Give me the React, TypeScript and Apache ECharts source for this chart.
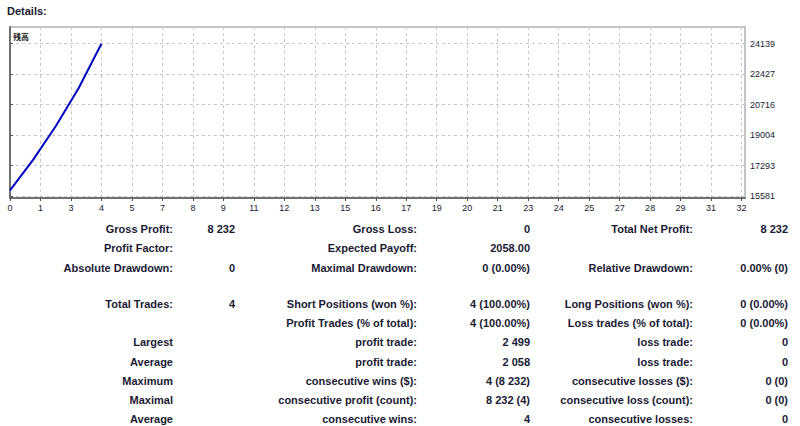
import React, { useEffect, useRef } from "react";
import * as echarts from "echarts";

// ---- chart data ----
const tradeIndex = [0, 1, 2, 3, 4];
const balance = [15907, 17607, 19507, 21640, 24139];
const xTickLabels = [0, 1, 3, 4, 5, 7, 8, 9, 11, 12, 13, 15, 16, 17, 19, 20, 21, 23, 24, 25, 27, 28, 29, 31, 32];
const yTickValues = [15581, 17293, 19004, 20716, 22427, 24139];
const seriesName = "残高";

// ---- report table ----
const rowY = [229, 248.3, 268, 304, 323.3, 342.3, 361.7, 381, 400, 419];
const col1Labels = ["Gross Profit:", "Profit Factor:", "Absolute Drawdown:", "Total Trades:", "", "Largest", "Average", "Maximum", "Maximal", "Average"];
const col1Values = ["8 232", "", "0", "4", "", "", "", "", "", ""];
const col2Labels = ["Gross Loss:", "Expected Payoff:", "Maximal Drawdown:", "Short Positions (won %):", "Profit Trades (% of total):", "profit trade:", "profit trade:", "consecutive wins ($):", "consecutive profit (count):", "consecutive wins:"];
const col2Values = ["0", "2058.00", "0 (0.00%)", "4 (100.00%)", "4 (100.00%)", "2 499", "2 058", "4 (8 232)", "8 232 (4)", "4"];
const col3Labels = ["Total Net Profit:", "", "Relative Drawdown:", "Long Positions (won %):", "Loss trades (% of total):", "loss trade:", "loss trade:", "consecutive losses ($):", "consecutive loss (count):", "consecutive losses:"];
const col3Values = ["8 232", "", "0.00% (0)", "0 (0.00%)", "0 (0.00%)", "0", "0", "0 (0)", "0 (0)", "0"];
const colRight = [173, 235, 417, 530, 693, 788];

const TEXT = "#1a1a33";
const FONT = "'Liberation Sans', Arial, sans-serif";

export default function App() {
  const ref = useRef<HTMLDivElement>(null);
  useEffect(() => {
    if (!ref.current) return;
    const chart = echarts.init(ref.current, undefined, { renderer: "svg" });
    const xStep = 32 / (xTickLabels.length - 1);
    const xTickPos = xTickLabels.map((_, i) => i * xStep);

    const texts: any[] = [];
    const cols = [col1Labels, col1Values, col2Labels, col2Values, col3Labels, col3Values];
    cols.forEach((col, ci) => {
      col.forEach((t, ri) => {
        if (!t) return;
        texts.push({
          type: "text",
          x: colRight[ci],
          y: rowY[ri],
          style: {
            text: t,
            align: "right",
            verticalAlign: "middle",
            fill: TEXT,
            font: `bold 11px ${FONT}`,
          },
        });
      });
    });

    chart.setOption({
      animation: false,
      backgroundColor: "#ffffff",
      grid: {
        left: 10,
        right: 55,
        top: 27,
        bottom: 228,
        show: true,
        borderColor: "#8a8a8a",
        borderWidth: 1,
      },
      xAxis: {
        type: "value",
        min: 0,
        max: 32.15,
        position: "bottom",
        axisLine: { show: true, onZero: false, lineStyle: { color: "#707070", width: 2 } },
        axisTick: { show: true, length: 3, customValues: xTickPos, lineStyle: { color: "#505050" } },
        axisLabel: {
          customValues: xTickPos,
          formatter: (v: number) => String(Math.round(v)),
          fontSize: 9,
          fontFamily: FONT,
          color: TEXT,
          margin: 5,
        },
        splitLine: { show: true, lineStyle: { color: "#c8c8c8", type: [3, 3], width: 1 } },
      },
      yAxis: {
        type: "value",
        min: 15480,
        max: 25076,
        position: "right",
        axisLine: { show: true, lineStyle: { color: "#707070", width: 2 } },
        axisTick: { show: true, length: 3, customValues: yTickValues, lineStyle: { color: "#505050" } },
        axisLabel: {
          customValues: yTickValues,
          formatter: (v: number) => String(Math.round(v)),
          fontSize: 9,
          fontFamily: FONT,
          color: TEXT,
          margin: 5,
        },
        splitLine: { show: true, lineStyle: { color: "#c8c8c8", type: [3, 3], width: 1 } },
      },
      series: [
        {
          name: seriesName,
          type: "line",
          data: tradeIndex.map((x, i) => [x, balance[i]]),
          showSymbol: false,
          symbol: "none",
          lineStyle: { color: "#0000c0", width: 2 },
        },
      ],
      graphic: [
        {
          type: "text",
          x: 7,
          y: 10.5,
          style: {
            text: "Details:",
            verticalAlign: "middle",
            fill: TEXT,
            font: `bold 11px ${FONT}`,
          },
        },
        {
          type: "text",
          x: 13,
          y: 36,
          style: {
            text: seriesName,
            verticalAlign: "middle",
            fill: "#1a1a1a",
            font: "bold 8px 'Noto Sans CJK JP', sans-serif",
          },
        },
        ...texts,
      ],
    });
    return () => chart.dispose();
  }, []);
  return (
    <div
      ref={ref}
      style={{ position: "absolute", left: 0, top: 0, width: 800, height: 426 }}
    />
  );
}
